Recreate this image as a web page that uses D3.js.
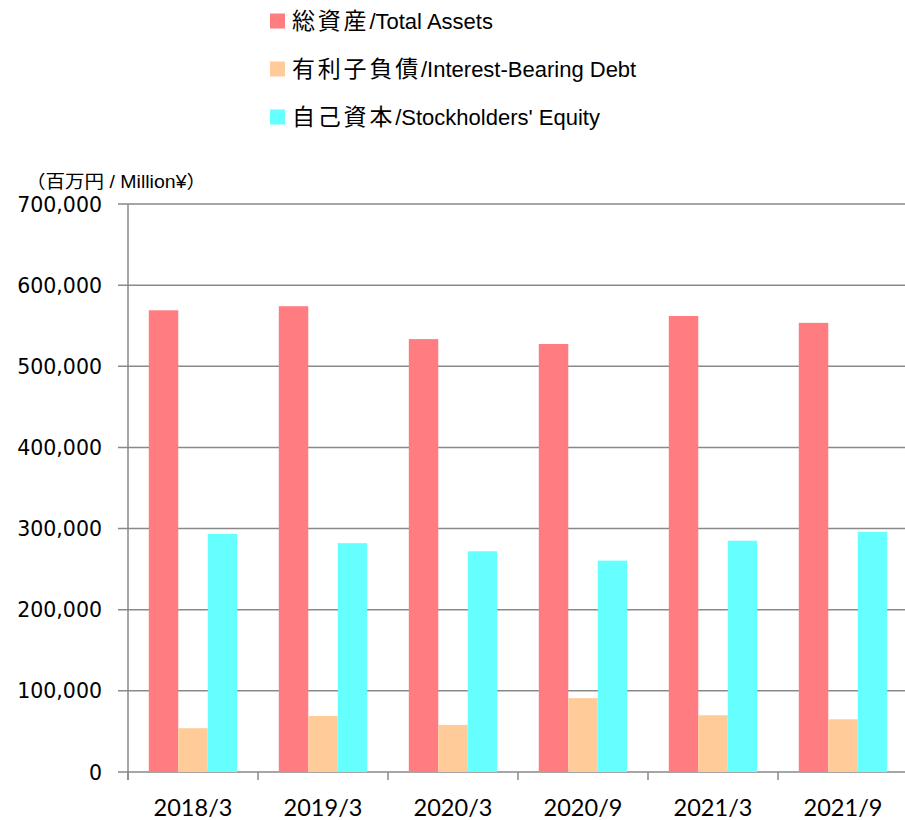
<!DOCTYPE html>
<html><head><meta charset="utf-8">
<script src="https://cdn.jsdelivr.net/npm/d3@7/dist/d3.min.js"></script>
<style>body{margin:0;background:#fff;}svg{display:block;}</style>
</head><body>
<svg id="c" width="905" height="820"></svg>
<script>
const categories = ["2018/3","2019/3","2020/3","2020/9","2021/3","2021/9"];
const seriesJa = ["総資産","有利子負債","自己資本"];
const seriesEn = ["/Total Assets","/Interest-Bearing Debt","/Stockholders' Equity"];
const totalAssets = [569000, 574000, 533500, 527500, 562000, 553500];
const interestDebt = [54000, 69000, 58000, 91000, 70000, 65000];
const equity = [293500, 282000, 272000, 260500, 285000, 296000];
const yTicks = [0,100000,200000,300000,400000,500000,600000,700000];
const unitLabel = "（百万円 / Million¥）";
const colors = ["#ff7c80","#ffcc99","#66ffff"];
const series = [totalAssets, interestDebt, equity];

(function(){
const svg = d3.select("#c");
const pl = 128, pr = 908, pt = 204, pb = 772;
const x = d3.scaleBand().domain(categories).range([pl, pr]).paddingInner(0.32).paddingOuter(0.16);
const xs = d3.scaleBand().domain([0,1,2]).range([0, x.bandwidth()]);
const y = d3.scaleLinear().domain([0,700000]).range([pb, pt]);
const grid = "#898989";

svg.append("g").selectAll("line").data(yTicks).join("line")
  .attr("x1", pl-10).attr("x2", 905).attr("y1", d=>y(d)).attr("y2", d=>y(d))
  .attr("stroke", grid).attr("stroke-width", 1.5);

series.forEach((vals, si) => {
  svg.append("g").selectAll("rect").data(vals).join("rect")
    .attr("x", (d,i)=>x(categories[i]) + xs(si))
    .attr("width", xs.bandwidth())
    .attr("y", d=>y(d)).attr("height", d=>pb - y(d))
    .attr("fill", colors[si]);
});

svg.append("line").attr("x1", pl).attr("x2", pl).attr("y1", pt).attr("y2", pb+8)
  .attr("stroke", grid).attr("stroke-width", 1.5);

const step = x.step();
const bounds = d3.range(categories.length+1).map(i=>pl + i*step);
svg.append("g").selectAll("line").data(bounds).join("line")
  .attr("x1", d=>d).attr("x2", d=>d).attr("y1", pb).attr("y2", pb+8)
  .attr("stroke", grid).attr("stroke-width", 1.5);

const fmt = d3.format(",");
svg.append("g").selectAll("text").data(yTicks).join("text")
  .attr("x", 102).attr("y", d=>y(d)+7.5).attr("text-anchor","end")
  .attr("font-family","'DejaVu Sans', sans-serif").attr("font-size", 20.5)
  .attr("fill","#000").text(d=>fmt(d));

svg.append("g").selectAll("text").data(categories).join("text")
  .attr("x", d=>x(d)+x.bandwidth()/2).attr("y", 816).attr("text-anchor","middle")
  .attr("font-family","Lato, 'Open Sans', sans-serif").attr("font-size", 23.5)
  .attr("fill","#000").text(d=>d);

svg.append("text").attr("x", 26).attr("y", 188)
  .attr("font-family","'Liberation Sans', 'Noto Sans CJK JP', sans-serif").attr("font-size", 18)
  .attr("textLength", 180).attr("lengthAdjust","spacingAndGlyphs")
  .attr("fill","#000").text(unitLabel);

const lg = svg.append("g");
seriesJa.forEach((n, i) => {
  const cy = 21 + i*48;
  lg.append("rect").attr("x", 270).attr("y", cy-7.5).attr("width", 15).attr("height", 15).attr("fill", colors[i]);
  const t = lg.append("text").attr("x", 292).attr("y", cy+8).attr("fill","#000");
  t.append("tspan").attr("font-family","'Noto Sans CJK JP', sans-serif").attr("font-size", 23)
    .attr("letter-spacing", 2.8).text(n);
  t.append("tspan").attr("font-family","'Liberation Sans', Arial, sans-serif").attr("font-size", 22)
    .text(seriesEn[i]);
});
})();
</script>
</body></html>
